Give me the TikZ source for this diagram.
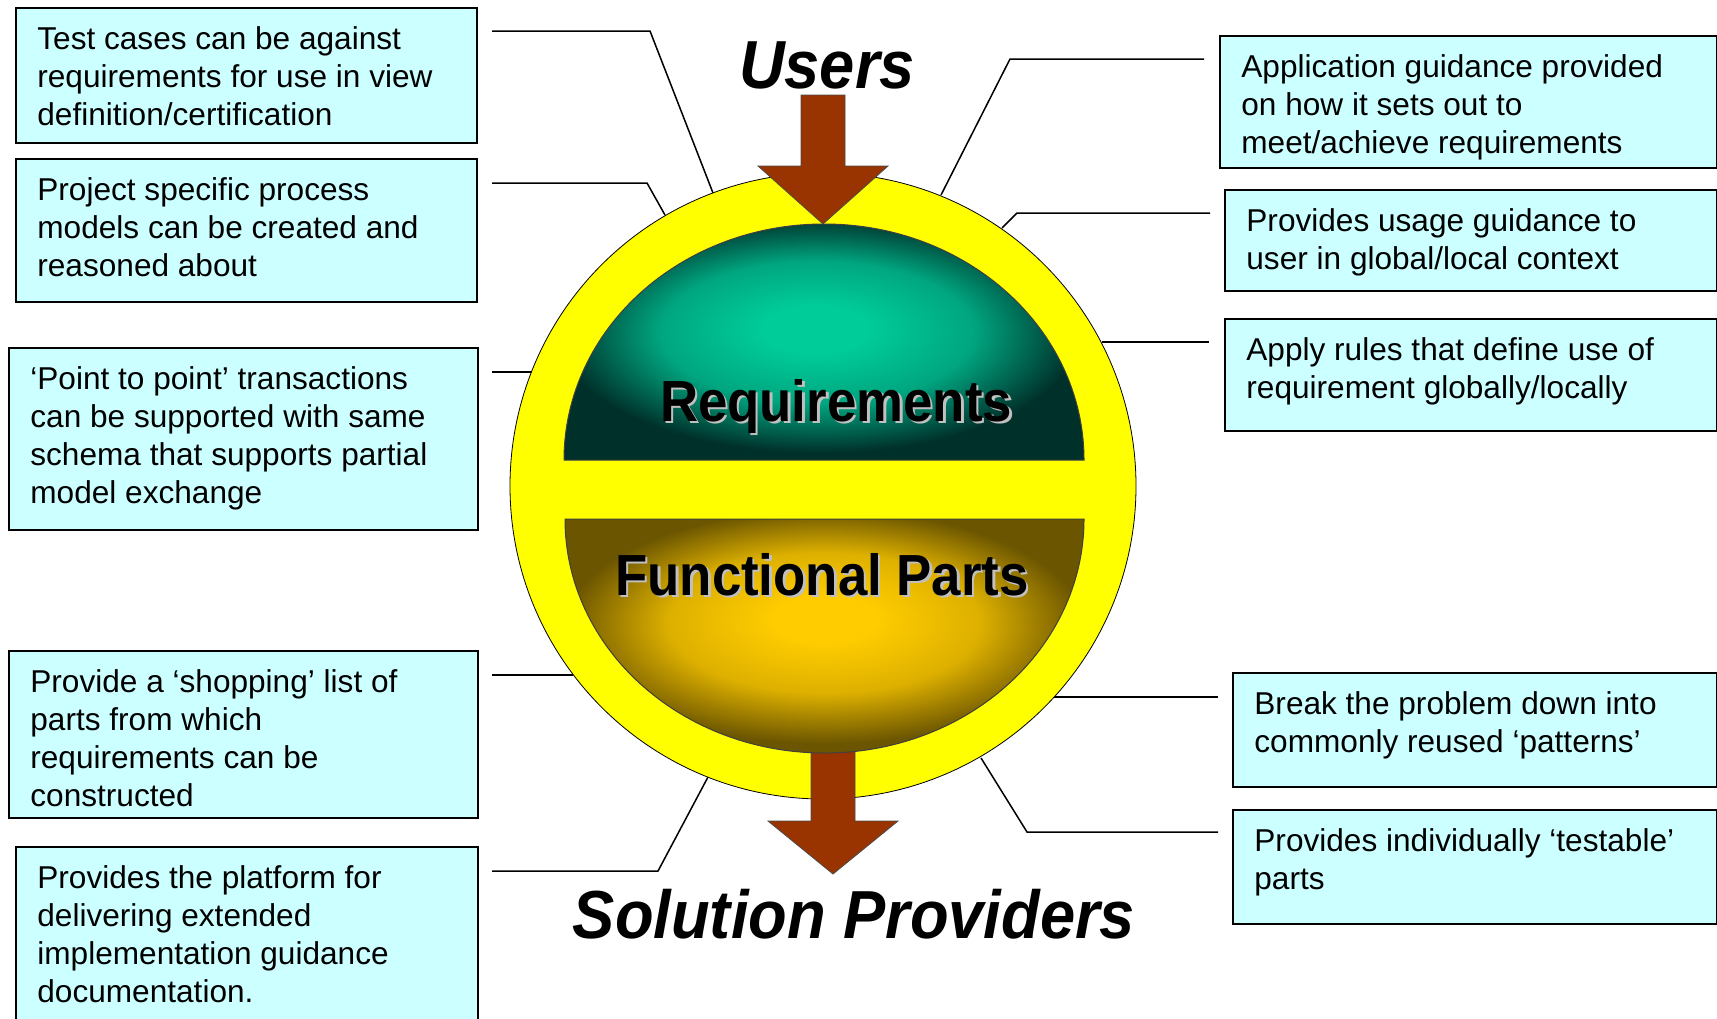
\documentclass[tikz,border=0pt]{standalone}
\usepackage{fontspec}
\setmainfont{Liberation Sans}
\newfontfamily\titlefont[FakeStretch=0.93]{Liberation Sans}
\newfontfamily\partfont[FakeStretch=0.91]{Liberation Sans}
\definecolor{boxfill}{HTML}{CCFFFF}
\definecolor{ringyellow}{HTML}{FFFF00}
\definecolor{arrowred}{HTML}{993300}
\definecolor{reqin}{HTML}{00CC99}
\definecolor{reqmid}{HTML}{00A680}
\definecolor{reqout}{HTML}{00302A}
\definecolor{funin}{HTML}{FFCC00}
\definecolor{funmid}{HTML}{DDB000}
\definecolor{funout}{HTML}{6B5500}
\definecolor{shadowgray}{HTML}{C0C0C0}
\pgfdeclareradialshading{reqshade}{\pgfpoint{-1bp}{3bp}}{color(0bp)=(reqin); color(5bp)=(reqin); color(15bp)=(reqmid); color(25bp)=(reqout); color(50bp)=(reqout)}
\pgfdeclareradialshading{funshade}{\pgfpoint{0bp}{4bp}}{color(0bp)=(funin); color(5bp)=(funin); color(15bp)=(funmid); color(25bp)=(funout); color(50bp)=(funout)}
\tikzset{
  tbox/.style={draw=black, line width=1pt, fill=boxfill, rectangle, inner sep=0pt, anchor=north west},
  txt/.style={anchor=north west, inner sep=0pt, align=left, font=\fontsize{15.8pt}{19pt}\selectfont},
  conn/.style={draw=black, line width=0.75pt},
  bigarrow/.style={fill=arrowred, draw=black!70, line width=0.4pt},
  title/.style={anchor=base, inner sep=0pt, font=\titlefont\bfseries\itshape\fontsize{34pt}{34pt}\selectfont},
  part/.style={anchor=base, inner sep=0pt, font=\partfont\bfseries\fontsize{29pt}{29pt}\selectfont},
}
\begin{document}
\begin{tikzpicture}[x=0.5pt,y=-0.5pt]
\useasboundingbox (0,0) rectangle (1717,1018);
\clip (0,0) rectangle (1717,1018);

% connector end points
\coordinate (c1a) at (492,31);  \coordinate (c1b) at (650,31);  \coordinate (c1c) at (713,193);
\coordinate (c2a) at (492,183); \coordinate (c2b) at (647,183); \coordinate (c2c) at (665,215);
\coordinate (c3a) at (492,372); \coordinate (c3c) at (532,372);
\coordinate (c4a) at (492,675); \coordinate (c4c) at (573,675);
\coordinate (c5a) at (492,871); \coordinate (c5b) at (658,871); \coordinate (c5c) at (708,777);
\coordinate (c6a) at (1204,59); \coordinate (c6b) at (1010,59); \coordinate (c6c) at (941,195);
\coordinate (c7a) at (1210,213); \coordinate (c7b) at (1017,213); \coordinate (c7c) at (1002,228);
\coordinate (c8a) at (1209,342); \coordinate (c8c) at (1102,342);
\coordinate (c9a) at (1218,697); \coordinate (c9c) at (1054,697);
\coordinate (c10a) at (1218,832); \coordinate (c10b) at (1027,832); \coordinate (c10c) at (981,758);

\path[conn] (c1a) -- (c1b) -- (c1c);
\path[conn] (c2a) -- (c2b) -- (c2c);
\path[conn] (c3a) -- (c3c);
\path[conn] (c4a) -- (c4c);
\path[conn] (c5a) -- (c5b) -- (c5c);
\path[conn] (c6a) -- (c6b) -- (c6c);
\path[conn] (c7a) -- (c7b) -- (c7c);
\path[conn] (c8a) -- (c8c);
\path[conn] (c9a) -- (c9c);
\path[conn] (c10a) -- (c10b) -- (c10c);

% ring
\node[circle, fill=ringyellow, draw=black, line width=0.4pt, minimum size=313pt, inner sep=0pt] (ring) at (823,486) {};

% arrows
\draw[bigarrow] (801,95) -- (845,95) -- (845,166) -- (888,166) -- (823,224) -- (758,166) -- (801,166) -- cycle;
\draw[bigarrow] (811,740) -- (855,740) -- (855,821) -- (898,821) -- (833,874) -- (768,821) -- (811,821) -- cycle;

% requirements dome
\shadedraw[shading=reqshade, draw=black!75, line width=0.5pt] (564,460) arc[start angle=180, end angle=0, x radius=130pt, y radius=118pt] -- cycle;
% functional parts bowl
\shadedraw[shading=funshade, draw=black!75, line width=0.5pt] (565,519) -- (1084,519) arc[start angle=0, end angle=-180, x radius=129.75pt, y radius=117pt] -- cycle;

% titles
\node[title] (users) at (827,88) {Users};
\node[title] (solution) at (854,938) {Solution Providers};
\node[part, text=shadowgray] (reqshadow) at (838.5,423.5) {Requirements};
\node[part] (req) at (836,421) {Requirements};
\node[part, text=shadowgray] (funshadow) at (824.5,597.5) {Functional Parts};
\node[part] (fun) at (822,595) {Functional Parts};

% left boxes
\node[tbox, minimum width=230.5pt, minimum height=67.5pt] (b1) at (15,7) {};
\node[txt] (t1) at (37,25) {\rule{0pt}{12pt}Test cases can be against\\requirements for use in view\\definition/certification};
\node[tbox, minimum width=230.5pt, minimum height=71.5pt] (b2) at (15,158) {};
\node[txt] (t2) at (37,176) {\rule{0pt}{12pt}Project specific process\\models can be created and\\reasoned about};
\node[tbox, minimum width=234.5pt, minimum height=91pt] (b3) at (8,347) {};
\node[txt] (t3) at (30,365) {\rule{0pt}{12pt}‘Point to point’ transactions\\can be supported with same\\schema that supports partial\\model exchange};
\node[tbox, minimum width=234.5pt, minimum height=83.5pt] (b4) at (8,650) {};
\node[txt] (t4) at (30,668) {\rule{0pt}{12pt}Provide a ‘shopping’ list of\\parts from which\\requirements can be\\constructed};
\node[tbox, minimum width=231pt, minimum height=100pt] (b5) at (15,846) {};
\node[txt] (t5) at (37,864) {\rule{0pt}{12pt}Provides the platform for\\delivering extended\\implementation guidance\\documentation.};

% right boxes
\node[tbox, minimum width=248.5pt, minimum height=66pt] (b6) at (1219,35) {};
\node[txt] (t6) at (1241,53) {\rule{0pt}{12pt}Application guidance provided\\on how it sets out to\\meet/achieve requirements};
\node[tbox, minimum width=246pt, minimum height=50.5pt] (b7) at (1224,189) {};
\node[txt] (t7) at (1246,207) {\rule{0pt}{12pt}Provides usage guidance to\\user in global/local context};
\node[tbox, minimum width=246pt, minimum height=56pt] (b8) at (1224,318) {};
\node[txt] (t8) at (1246,336) {\rule{0pt}{12pt}Apply rules that define use of\\requirement globally/locally};
\node[tbox, minimum width=242pt, minimum height=57pt] (b9) at (1232,672) {};
\node[txt] (t9) at (1254,690) {\rule{0pt}{12pt}Break the problem down into\\commonly reused ‘patterns’};
\node[tbox, minimum width=242pt, minimum height=57pt] (b10) at (1232,809) {};
\node[txt] (t10) at (1254,827) {\rule{0pt}{12pt}Provides individually ‘testable’\\parts};
\end{tikzpicture}
\end{document}
